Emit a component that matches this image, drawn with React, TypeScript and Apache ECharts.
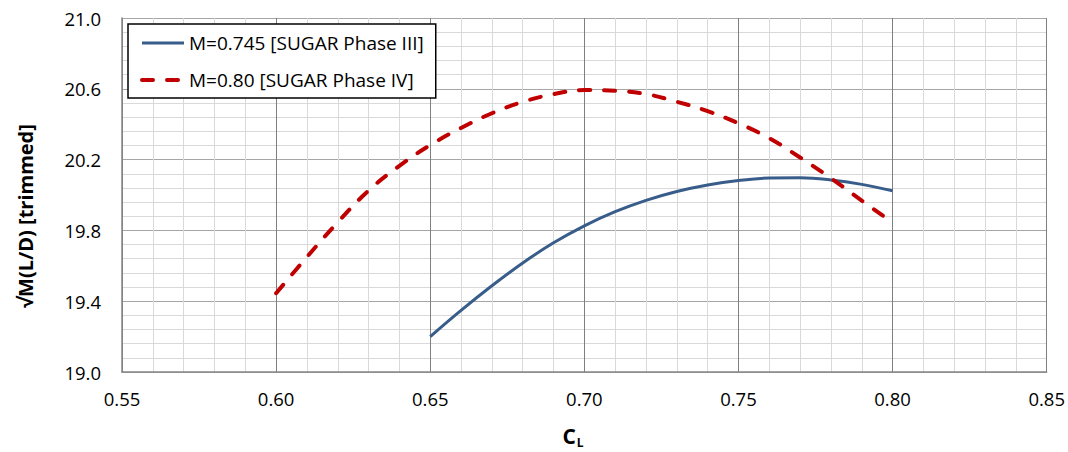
import React, { useEffect, useRef } from "react";
import * as echarts from "echarts";

const phase3Cl = [0.65, 0.66, 0.67, 0.68, 0.69, 0.7, 0.71, 0.72, 0.73, 0.74, 0.75, 0.76, 0.77, 0.78, 0.79, 0.8];
const phase3Vals = [19.2, 19.348, 19.487, 19.616, 19.73, 19.826, 19.906, 19.97, 20.02, 20.057, 20.082, 20.096, 20.097, 20.085, 20.06, 20.024];
const phase4Cl = [0.6, 0.61, 0.62, 0.63, 0.64, 0.65, 0.66, 0.67, 0.68, 0.69, 0.7, 0.71, 0.72, 0.73, 0.74, 0.75, 0.76, 0.77, 0.78, 0.79, 0.8];
const phase4Vals = [19.445, 19.65, 19.846, 20.025, 20.165, 20.282, 20.379, 20.462, 20.526, 20.57, 20.593, 20.589, 20.57, 20.527, 20.474, 20.405, 20.321, 20.212, 20.095, 19.968, 19.844];
const seriesNames = ["M=0.745 [SUGAR Phase III]", "M=0.80 [SUGAR Phase IV]"];
const yTitle = "√M(L/D) [trimmed]";

const FONT = "Open Sans";
const BLUE = "#385d8a";
const RED = "#c00000";
const redDash = [11, 14];

export default function App() {
  const ref = useRef<HTMLDivElement>(null);
  useEffect(() => {
    document.body.style.margin = "0";
    if (!ref.current) return;
    const chart = echarts.init(ref.current, null, { renderer: "svg" });
    chart.setOption({
      animation: false,
      backgroundColor: "#fff",
      textStyle: { fontFamily: FONT },
      grid: { left: 122, right: 20, top: 18, bottom: 80, containLabel: false },
      legend: {
        orient: "vertical",
        left: 128,
        top: 24,
        data: [
          { name: seriesNames[0], lineStyle: { color: BLUE, width: 3 } },
          { name: seriesNames[1], lineStyle: { color: RED, width: 4, type: redDash, cap: "round" } },
        ],
        backgroundColor: "#fff",
        borderColor: "#000",
        borderWidth: 1.5,
        borderRadius: 0,
        padding: [8, 12, 7, 12],
        itemGap: 15,
        itemWidth: 42,
        itemHeight: 14,
        itemStyle: { color: "rgba(0,0,0,0)", borderColor: "rgba(0,0,0,0)", borderWidth: 0 },
        textStyle: { fontFamily: FONT, fontSize: 19, color: "#000", lineHeight: 22 },
      },
      xAxis: {
        type: "value",
        min: 0.55,
        max: 0.85,
        interval: 0.05,
        axisLine: { show: true, lineStyle: { color: "#868686", width: 1.5 } },
        axisTick: { show: false },
        axisLabel: {
          formatter: (v: number) => v.toFixed(2),
          fontFamily: FONT,
          fontSize: 18.5,
          color: "#000",
          margin: 17,
        },
        splitLine: { show: true, lineStyle: { color: "#7f7f7f", width: 1 } },
        minorTick: { show: false, splitNumber: 5 },
        minorSplitLine: { show: true, lineStyle: { color: "#d9d9d9", width: 1 } },
      },
      yAxis: {
        type: "value",
        min: 19,
        max: 21,
        interval: 0.4,
        axisLine: { show: true, lineStyle: { color: "#868686", width: 1.5 } },
        axisTick: { show: false },
        axisLabel: {
          formatter: (v: number) => v.toFixed(1),
          fontFamily: FONT,
          fontSize: 18.5,
          color: "#000",
          margin: 21,
        },
        splitLine: { show: true, lineStyle: { color: "#a6a6a6", width: 1 } },
        minorTick: { show: false, splitNumber: 5 },
        minorSplitLine: { show: true, lineStyle: { color: "#d9d9d9", width: 1 } },
      },
      graphic: [
        {
          type: "text",
          x: 25,
          y: 216,
          rotation: Math.PI / 2,
          style: {
            text: yTitle,
            fontFamily: FONT,
            fontWeight: "bold",
            fontSize: 20,
            fill: "#000",
            align: "center",
            verticalAlign: "middle",
          },
        },
        {
          type: "text",
          x: 573,
          y: 436,
          style: {
            text: "{c|C}{l|L}",
            align: "center",
            verticalAlign: "middle",
            rich: {
              c: { fontFamily: FONT, fontWeight: "bold", fontSize: 21, fill: "#000" },
              l: { fontFamily: FONT, fontWeight: "bold", fontSize: 12, fill: "#000", padding: [12, 0, 0, 1] },
            },
          },
        },
      ],
      series: [
        {
          name: seriesNames[0],
          type: "line",
          data: phase3Cl.map((c, i) => [c, phase3Vals[i]]),
          smooth: 0.4,
          symbol: "none",
          showSymbol: false,
          lineStyle: { color: BLUE, width: 3 },
          itemStyle: { color: BLUE },
          z: 3,
        },
        {
          name: seriesNames[1],
          type: "line",
          data: phase4Cl.map((c, i) => [c, phase4Vals[i]]),
          smooth: 0.4,
          symbol: "none",
          showSymbol: false,
          lineStyle: { color: RED, width: 4, type: redDash, cap: "round" },
          itemStyle: { color: RED },
          z: 4,
        },
      ],
    });
    return () => chart.dispose();
  }, []);
  return <div ref={ref} style={{ width: 1068, height: 452 }} />;
}
